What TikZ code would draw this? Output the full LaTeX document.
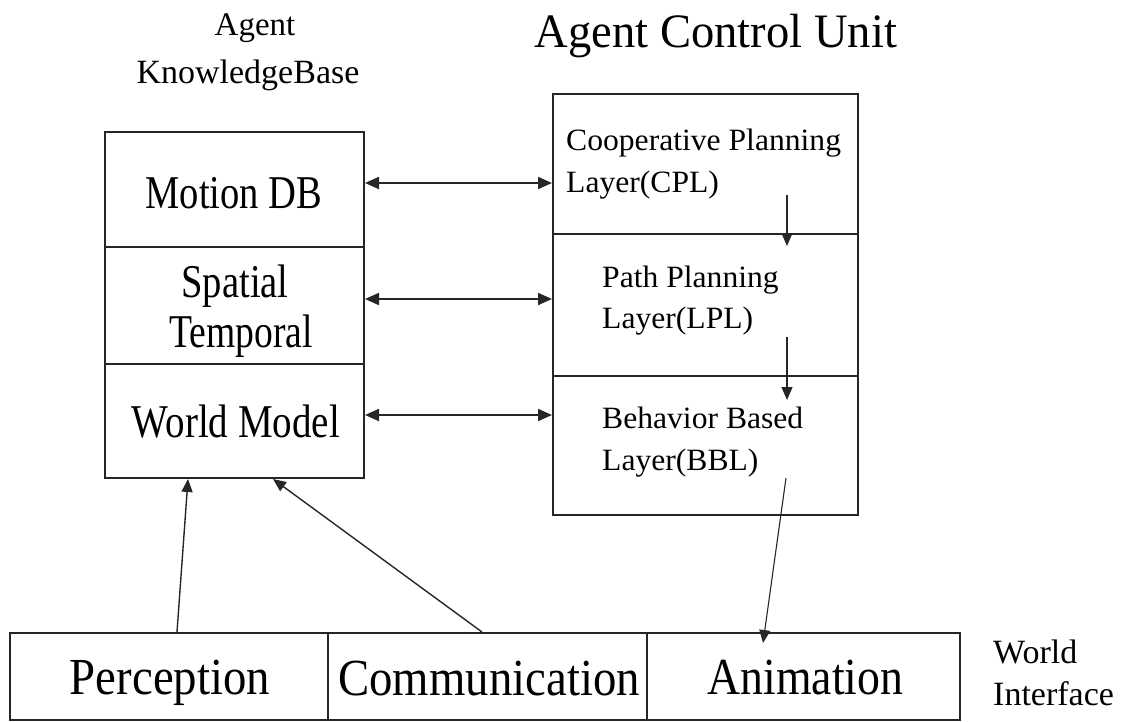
\documentclass[tikz,border=0pt]{standalone}
\usepackage{fontspec}
\setmainfont{Liberation Serif}
\usetikzlibrary{arrows.meta}

% text helper: size, horizontal squeeze, text
\newcommand{\txt}[3]{\fontsize{#1}{#1}\selectfont\scalebox{#2}[1]{#3}}

\tikzset{
  box/.style={draw=black!85, line width=2pt, inner sep=0pt, minimum width=#1},
  lbl/.style={inner sep=0pt, anchor=base},
  lbll/.style={inner sep=0pt, anchor=base west},
  link/.style={draw=black!85, line width=1.4pt, -{Triangle[length=13pt,width=11pt]}},
  thinlink/.style={link, line width=1.1pt},
  dlink/.style={draw=black!85, line width=2pt, {Triangle[length=14pt,width=12pt]}-{Triangle[length=14pt,width=12pt]}},
}

\begin{document}
\begin{tikzpicture}[x=1pt, y=-1pt]
\useasboundingbox (0,0) rectangle (1128,721);

% ---- Agent KnowledgeBase ----
\node[box=259pt, minimum height=115pt] (mdb) at (234.5,189.5) {};
\node[box=259pt, minimum height=117pt] (st)  at (234.5,305.5) {};
\node[box=259pt, minimum height=114pt] (wm)  at (234.5,421) {};

\node[lbl] (kb1) at (255,35) {\txt{33}{1}{Agent}};
\node[lbl] (kb2) at (248,83) {\txt{34}{1}{KnowledgeBase}};

\node[lbl] (mdbt) at (234,208) {\txt{47}{0.82}{Motion DB}};
\node[lbl] (stt1) at (235,297) {\txt{47}{0.82}{Spatial}};
\node[lbl] (stt2) at (241,347) {\txt{47}{0.80}{Temporal}};
\node[lbl] (wmt)  at (236,437) {\txt{47}{0.83}{World Model}};

% ---- Agent Control Unit ----
\node[box=305pt, minimum height=140pt] (cpl) at (705.5,164) {};
\node[box=305pt, minimum height=142pt] (ppl) at (705.5,305) {};
\node[box=305pt, minimum height=139pt] (bbl) at (705.5,445.5) {};

\node[lbl] (acu) at (716,47) {\txt{48}{0.97}{Agent Control Unit}};

\node[lbll] (cplt1) at (566,150) {\txt{31}{1.02}{Cooperative Planning}};
\node[lbll] (cplt2) at (566,192) {\txt{31}{1.02}{Layer(CPL)}};
\node[lbll] (pplt1) at (602,287) {\txt{31}{1.02}{Path Planning}};
\node[lbll] (pplt2) at (602,328) {\txt{31}{1.02}{Layer(LPL)}};
\node[lbll] (bblt1) at (602,428) {\txt{31}{1.02}{Behavior Based}};
\node[lbll] (bblt2) at (602,470) {\txt{31}{1.02}{Layer(BBL)}};

% ---- World Interface ----
\node[box=318pt, minimum height=87pt] (perc) at (169,676.5) {};
\node[box=319pt, minimum height=87pt] (comm) at (487.5,676.5) {};
\node[box=313pt, minimum height=87pt] (anim) at (803.5,676.5) {};

\node[lbl] (perct) at (170,694) {\txt{52}{0.90}{Perception}};
\node[lbl] (commt) at (489,695) {\txt{52}{0.90}{Communication}};
\node[lbl] (animt) at (805.5,694) {\txt{52}{0.88}{Animation}};

\node[lbll] (wi1) at (993,663) {\txt{34}{1}{World}};
\node[lbll] (wi2) at (993,705) {\txt{34}{1}{Interface}};

% ---- connectors ----
\coordinate (r1) at (0,183);
\coordinate (r2) at (0,299);
\coordinate (r3) at (0,415);
\draw[dlink] (mdb.east |- r1) -- (cpl.west |- r1);
\draw[dlink] (st.east |- r2)  -- (ppl.west |- r2);
\draw[dlink] (wm.east |- r3)  -- (bbl.west |- r3);

\coordinate (v1a) at (787,195);
\coordinate (v1b) at (787,246);
\coordinate (v2a) at (787,337);
\coordinate (v2b) at (787,400);
\draw[thinlink] (v1a) -- (v1b);
\draw[thinlink] (v2a) -- (v2b);

\coordinate (v3a) at (786,478);
\coordinate (v3b) at (763,643);
\draw[thinlink] (v3a) -- (v3b);

\coordinate (p1) at (177,0);
\coordinate (p2) at (188,479);
\coordinate (c1) at (482,0);
\coordinate (c2) at (273,479);
\draw[link] (perc.north -| p1) -- (p2);
\draw[link] (comm.north -| c1) -- (c2);
\end{tikzpicture}
\end{document}
